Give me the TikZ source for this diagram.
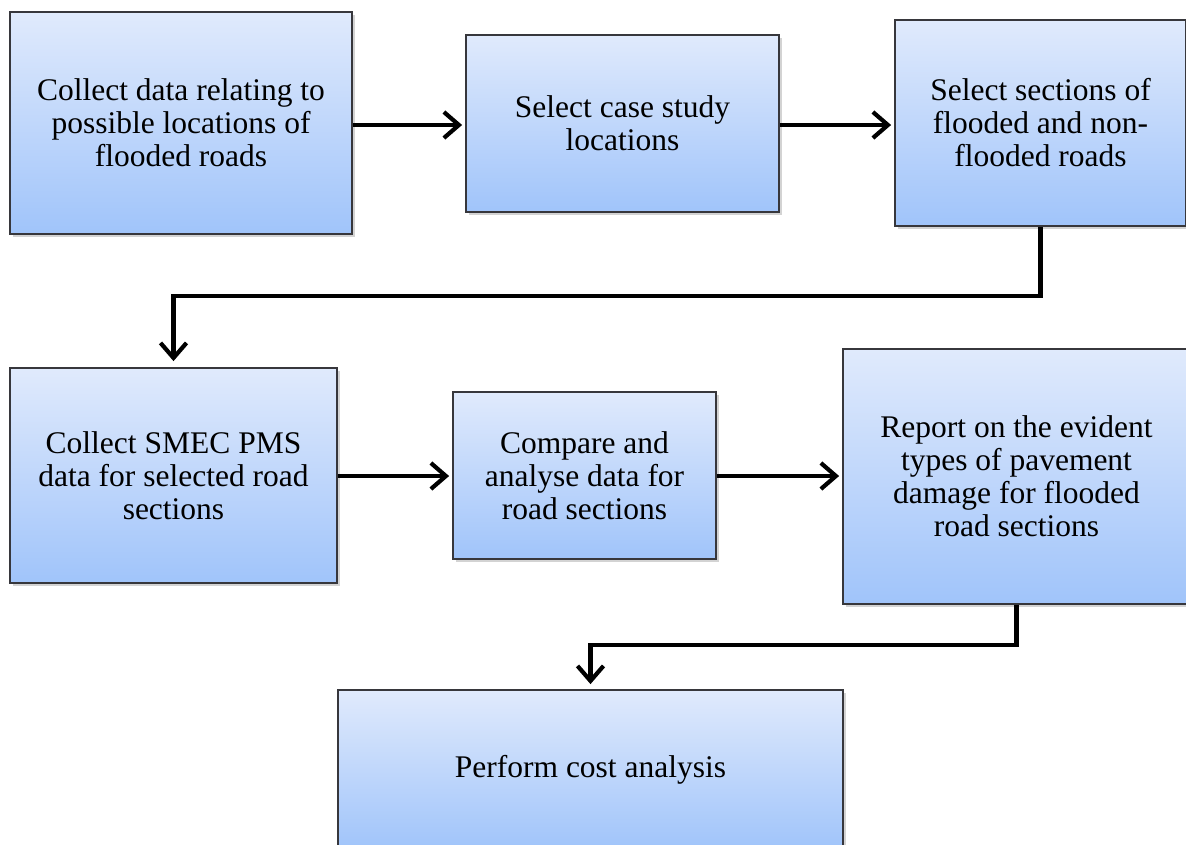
\documentclass[tikz,border=0pt]{standalone}
\usepackage{fontspec}
\setmainfont{Liberation Serif}
\usetikzlibrary{arrows.meta,shadows}
\definecolor{boxtop}{RGB}{224,234,252}
\definecolor{boxbot}{RGB}{160,196,250}
\definecolor{boxline}{RGB}{55,55,60}
\begin{document}
\begin{tikzpicture}[x=1pt,y=1pt,
  stepbox/.style={draw=boxline, line width=1.8pt, rectangle, align=center,
    top color=boxtop, bottom color=boxbot, inner sep=0pt,
    font=\fontsize{31.5}{33}\selectfont,
    drop shadow={shadow xshift=2.5pt, shadow yshift=-2.5pt, opacity=0.35}},
  flow/.style={line width=4.8pt, -{Straight Barb[length=15pt,width=26pt,line width=4.2pt]}, shorten >=3pt}
]
\useasboundingbox (0,0) rectangle (1186,-844);
\node[stepbox, minimum width=342, minimum height=222] (b1) at (181,-123)
  {Collect data relating to\\possible locations of\\flooded roads};
\node[stepbox, minimum width=313, minimum height=177] (b2) at (622.5,-123.5)
  {Select case study\\locations};
\node[stepbox, minimum width=291, minimum height=206] (b3) at (1040.5,-123)
  {Select sections of\\flooded and non-\\flooded roads};
\node[stepbox, minimum width=327, minimum height=215] (b4) at (173.5,-475.5)
  {Collect SMEC PMS\\data for selected road\\sections};
\node[stepbox, minimum width=263, minimum height=167] (b5) at (584.5,-475.5)
  {Compare and\\analyse data for\\road sections};
\node[stepbox, minimum width=347, minimum height=255] (b6) at (1016.5,-476.5)
  {Report on the evident\\types of pavement\\damage for flooded\\road sections};
\node[stepbox, minimum width=505, minimum height=160] (b7) at (590.5,-770)
  {Perform cost analysis};

\coordinate (t1) at (b3.south |- 0,-296);
\coordinate (t2) at (b4.north |- 0,-296);
\coordinate (t3) at (b6.south |- 0,-645);
\coordinate (t4) at (b7.north |- 0,-645);

\draw[flow] (b1.east |- 0,-125) -- (b2.west |- 0,-125);
\draw[flow] (b2.east |- 0,-125) -- (b3.west |- 0,-125);
\draw[flow, shorten >=6pt] (b3.south) -- (t1) -- (t2) -- (b4.north);
\draw[flow] (b4.east |- 0,-476) -- (b5.west |- 0,-476);
\draw[flow] (b5.east |- 0,-476) -- (b6.west |- 0,-476);
\draw[flow, shorten >=5pt] (b6.south) -- (t3) -- (t4) -- (b7.north);
\end{tikzpicture}
\end{document}
